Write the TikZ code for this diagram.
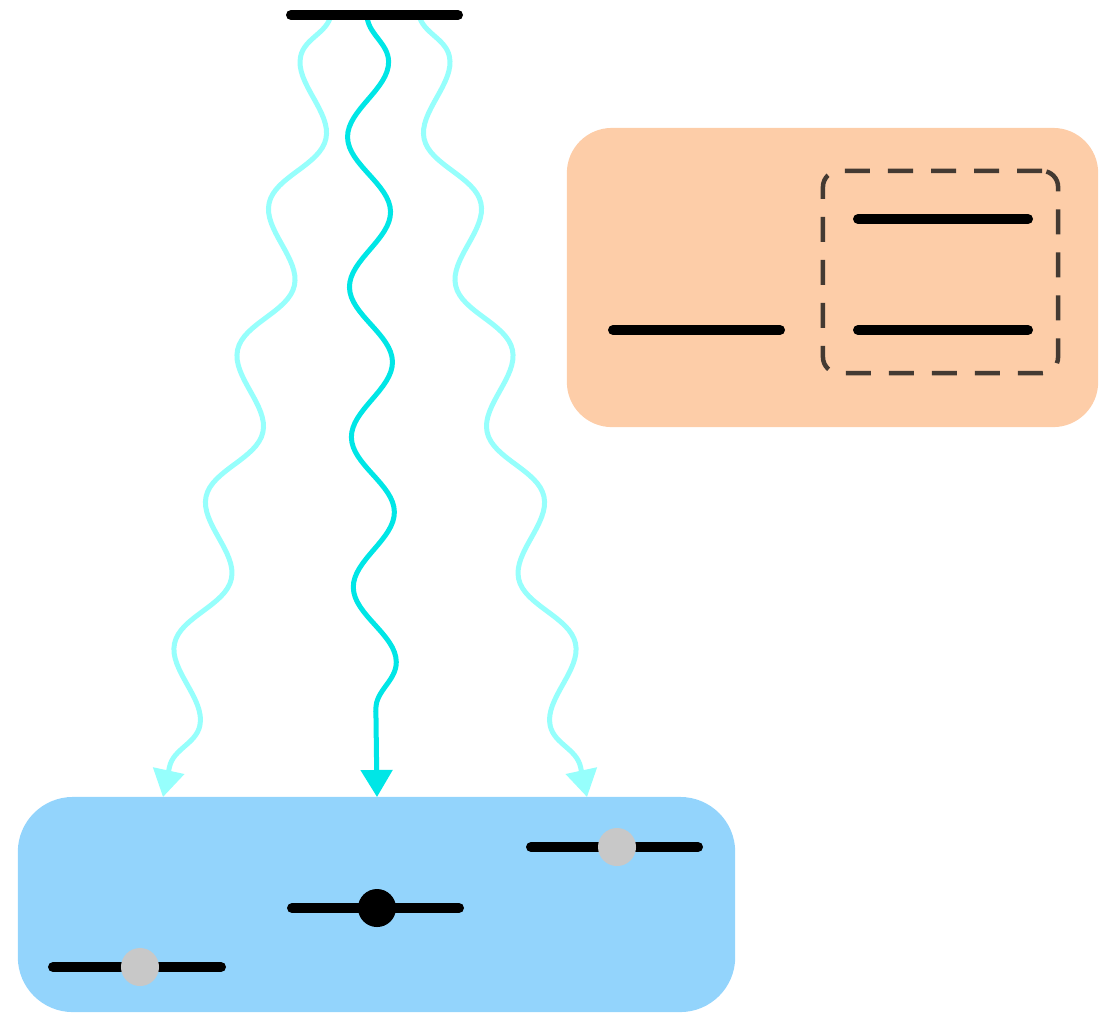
\documentclass[tikz,border=0pt]{standalone}
\usetikzlibrary{positioning,arrows.meta,decorations.pathmorphing}
\definecolor{lowerblue}{RGB}{147,212,252}
\definecolor{upperpeach}{RGB}{253,205,168}
\definecolor{photonlight}{RGB}{150,255,252}
\definecolor{photondark}{RGB}{0,230,230}
\definecolor{dotgray}{RGB}{200,200,200}
\definecolor{dashbrown}{RGB}{68,58,50}
\begin{document}
\begin{tikzpicture}[x=0.01cm, y=-0.01cm,
  level/.style={line width=1mm, line cap=round},
  lowerbox/.style={rectangle, fill=lowerblue, rounded corners=5.5mm, minimum width=7.17cm, minimum height=2.15cm, inner sep=0pt},
  upperbox/.style={rectangle, fill=upperpeach, rounded corners=4.5mm, minimum width=5.31cm, minimum height=2.99cm, inner sep=0pt},
  groupbox/.style={rectangle, draw=dashbrown, line width=0.45mm, dash pattern=on 2.5mm off 1.8mm, rounded corners=1.6mm, minimum width=2.35cm, minimum height=2.02cm, inner sep=0pt},
  electron/.style={circle, fill=black, minimum size=3.8mm, inner sep=0pt},
  hole/.style={electron, fill=dotgray},
  photon/.style={line width=0.5mm, decorate, decoration={snake, segment length=1.5cm, amplitude=2.1mm, post length=3mm}, -{Triangle[length=2.7mm, width=3.1mm]}}
]
\useasboundingbox (0,0) rectangle (1101,1017);
\node[lowerbox] (lower) at (376.5,904.5) {};
\node[upperbox] (upper) at (832.5,277.5) {};
\node[groupbox] (group) at (940.5,272) {};
\coordinate (src1) at (331,15);
\coordinate (src2) at (367,15);
\coordinate (src3) at (419,15);
\coordinate (tgt1) at (163,797);
\coordinate (tgt2) at (377,797);
\coordinate (tgt3) at (587,797);
\draw[photon, photonlight, decoration={mirror}] (src1) -- (tgt1);
\draw[photon, photondark] (src2) -- (tgt2);
\draw[photon, photonlight] (src3) -- (tgt3);
\draw[level] (291,15) -- (458,15);
\draw[level] (613,330) -- (780,330);
\draw[level] (858,219) -- (1028,219);
\draw[level] (858,330) -- (1028,330);
\draw[level] (53,967) -- (221,967);
\draw[level] (292,908) -- (459,908);
\draw[level] (531,847) -- (698,847);
\node[hole] (h1) at (140,967) {};
\node[electron] (e2) at (377,908) {};
\node[hole] (h3) at (617,847) {};
\end{tikzpicture}
\end{document}
